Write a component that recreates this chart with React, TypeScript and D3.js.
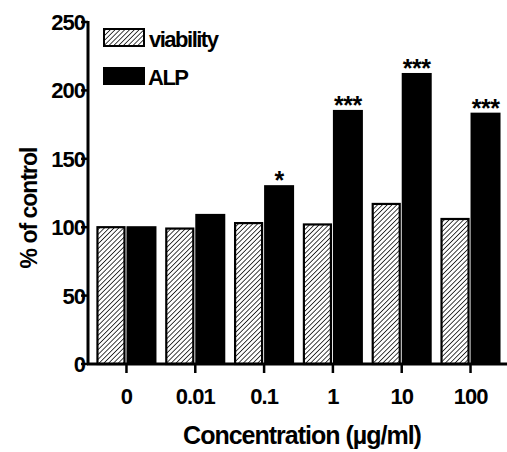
import React from 'react';
import * as d3 from 'd3';

const categories = ['0', '0.01', '0.1', '1', '10', '100'];
const viability = [100, 99, 103, 102, 117, 106];
const alp = [100, 109, 130, 185, 212, 183];
const stars = ['', '', '*', '***', '***', '***'];
const yTicks = [0, 50, 100, 150, 200, 250];

const width = 507;
const height = 452;
const font = '"Liberation Sans", Arial, sans-serif';

const App = () => {
  const x = d3.scaleBand().domain(categories).range([90, 507]).paddingInner(0).paddingOuter(0.03);
  const y = d3.scaleLinear().domain([0, 250]).range([364, 22]);
  const bw = 27;

  return (
    <svg width={width} height={height} style={{ position: 'absolute', left: 0, top: 0, background: '#fff' }}>
      <defs>
        <pattern id="hatch" width="3.4" height="3.4" patternUnits="userSpaceOnUse" patternTransform="rotate(45)">
          <rect width="3.4" height="3.4" fill="#fff" />
          <line x1="0" y1="0" x2="0" y2="3.4" stroke="#111" strokeWidth="1.6" />
        </pattern>
      </defs>

      {/* bars */}
      {categories.map((c, i) => {
        const cx = x(c)! + x.bandwidth() / 2;
        return (
          <g key={c}>
            <rect x={cx - bw - 2} y={y(viability[i])} width={bw} height={y(0) - y(viability[i])}
              fill="url(#hatch)" stroke="#000" strokeWidth={2.2} />
            <rect x={cx + 1} y={y(alp[i])} width={bw + 1} height={y(0) - y(alp[i])}
              fill="#000" stroke="#000" strokeWidth={2} />
            {stars[i] && (
              <text x={cx + 15} y={y(alp[i]) + 3} textAnchor="middle" fontFamily={font}
                fontWeight="bold" fontSize={25} letterSpacing={-0.5}>{stars[i]}</text>
            )}
          </g>
        );
      })}

      {/* y axis */}
      <line x1={88} x2={88} y1={y(250) - 1} y2={y(0) + 1} stroke="#000" strokeWidth={3} />
      {yTicks.map(t => (
        <g key={t}>
          <line x1={81} x2={88} y1={y(t)} y2={y(t)} stroke="#000" strokeWidth={2.5} />
          <text x={85} y={y(t) + 8} textAnchor="end" fontFamily={font} fontWeight="bold"
            fontSize={22} letterSpacing={-1}>{t}</text>
        </g>
      ))}

      {/* x axis */}
      <line x1={87} x2={507} y1={y(0)} y2={y(0)} stroke="#000" strokeWidth={3} />
      {categories.map(c => {
        const cx = x(c)! + x.bandwidth() / 2;
        return (
          <g key={c}>
            <line x1={cx} x2={cx} y1={y(0)} y2={y(0) + 9} stroke="#000" strokeWidth={2.5} />
            <text x={cx} y={y(0) + 40} textAnchor="middle" fontFamily={font} fontWeight="bold"
              fontSize={22} letterSpacing={-1}>{c}</text>
          </g>
        );
      })}

      {/* axis titles */}
      <text x={302} y={444} textAnchor="middle" fontFamily={font} fontWeight="bold"
        fontSize={25} letterSpacing={-1}>Concentration (µg/ml)</text>
      <text transform="translate(37,208) rotate(-90)" textAnchor="middle" fontFamily={font}
        fontWeight="bold" fontSize={23} letterSpacing={-1}>% of control</text>

      {/* legend */}
      <rect x={104} y={29} width={40} height={17} fill="url(#hatch)" stroke="#000" strokeWidth={2} />
      <text x={149} y={47} fontFamily={font} fontWeight="bold" fontSize={22} letterSpacing={-1.5}>viability</text>
      <rect x={103} y={67} width={42} height={18} fill="#000" />
      <text x={148} y={85} fontFamily={font} fontWeight="bold" fontSize={22} letterSpacing={-1.5}>ALP</text>
    </svg>
  );
};

export default App;
